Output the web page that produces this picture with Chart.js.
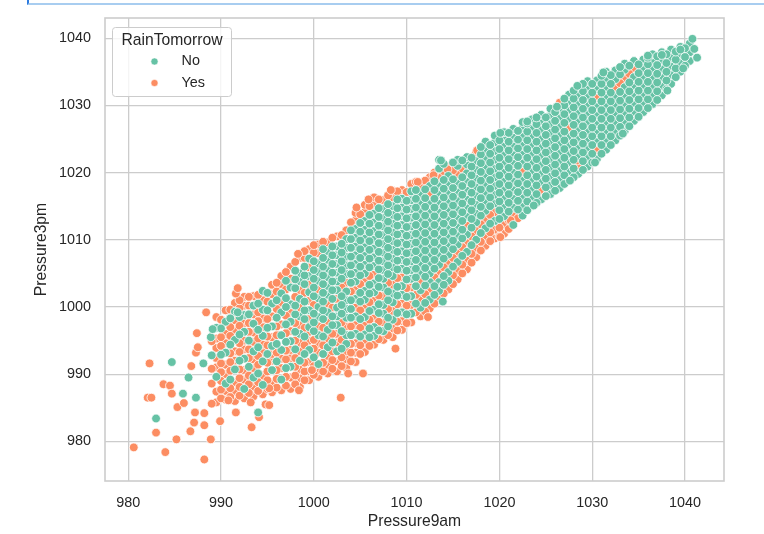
<!DOCTYPE html>
<html>
<head>
<meta charset="utf-8">
<script src="https://cdn.jsdelivr.net/npm/chart.js@4.4.1/dist/chart.umd.min.js"></script>
<style>
  html, body { margin: 0; padding: 0; background: #fff; }
  #wrap { position: relative; width: 764px; height: 534px; overflow: hidden; }
  #cell { position: absolute; left: 27px; top: 0; width: 760px; height: 3px;
          border-left: 2px solid #2d7be0; border-bottom: 2px solid #a8cdf0; }
  canvas { position: absolute; left: 0; top: 0; }
</style>
</head>
<body>
<div id="wrap">
  <canvas id="scatter" width="764" height="534"></canvas>
  <div id="cell"></div>
</div>
<script>
// Pressure9am vs Pressure3pm, coloured by RainTomorrow
const xTicks = [980, 990, 1000, 1010, 1020, 1030, 1040];
const yTicks = [980, 990, 1000, 1010, 1020, 1030, 1040];
const seriesNames = ['No', 'Yes'];

// [Pressure9am, [Pressure3pm, ...]]
const noCols = [
  [989.5, [989.6, 996.9]],
  [990.5, [988.6, 993.2, 997.8]],
  [991.5, [990.7, 995.1, 999.3]],
  [992.5, [987.8, 992.3, 996.3, 998.8]],
  [993.5, [989.5, 993.4, 997.5, 1000.2]],
  [994.5, [988.4, 991.9, 995.7, 999.6, 1002.4]],
  [995.5, [990.6, 994.2, 997.1, 1000.5]],
  [996.5, [989.2, 993.6, 995.8, 999.2, 1002.0]],
  [997.5, [991.1, 994.9, 997.8, 1000.4, 1002.9]],
  [998.5, [992.0, 996.0, 998.6, 1001.2, 1003.8, 1005.0]],
  [999.5, [993.6, 997.0, 999.5, 1002.2, 1004.6, 1007.2]],
  [1000.5, [991.5, 995.8, 998.5, 1000.0, 1001.3, 1003.9, 1005.2, 1006.5]],
  [1001.5, [994.0, 996.6, 999.2, 1001.8, 1003.1, 1004.4, 1005.7, 1007.0, 1008.3]],
  [1002.5, [993.4, 997.3, 998.6, 999.9, 1002.5, 1003.8, 1005.1, 1006.4, 1007.7, 1009.0]],
  [1003.5, [994.5, 995.8, 998.4, 999.7, 1001.0, 1002.3, 1004.9, 1006.2, 1007.5, 1008.8, 1010.1]],
  [1004.5, [996.0, 998.6, 1001.2, 1003.8, 1005.1, 1006.4, 1007.7, 1009.0, 1010.3, 1011.6]],
  [1005.5, [995.9, 998.5, 1001.1, 1002.4, 1005.0, 1006.3, 1007.6, 1008.9, 1010.2, 1011.5, 1012.8]],
  [1006.5, [995.7, 997.0, 999.6, 1002.2, 1003.5, 1006.1, 1007.4, 1008.7, 1010.0, 1011.3, 1012.6, 1013.9]],
  [1007.5, [996.4, 999.0, 1000.3, 1002.9, 1004.2, 1005.5, 1006.8, 1008.1, 1009.4, 1010.7, 1012.0, 1013.3, 1014.6]],
  [1008.5, [998.1, 1000.7, 1002.0, 1004.6, 1005.9, 1007.2, 1008.5, 1009.8, 1011.1, 1012.4, 1013.7, 1015.0]],
  [1009.5, [999.2, 1001.8, 1003.1, 1005.7, 1007.0, 1008.3, 1009.6, 1010.9, 1012.2, 1013.5, 1014.8, 1016.1]],
  [1010.5, [999.0, 1001.6, 1004.2, 1005.5, 1006.8, 1008.1, 1009.4, 1010.7, 1012.0, 1013.3, 1014.6, 1015.9, 1017.2]],
  [1011.5, [999.9, 1002.5, 1005.1, 1006.4, 1007.7, 1009.0, 1010.3, 1011.6, 1012.9, 1014.2, 1015.5, 1016.8]],
  [1012.5, [1001.1, 1003.7, 1005.0, 1006.3, 1007.6, 1008.9, 1010.2, 1011.5, 1012.8, 1014.1, 1015.4, 1018.0]],
  [1013.5, [1002.4, 1003.7, 1006.3, 1007.6, 1008.9, 1010.2, 1011.5, 1012.8, 1014.1, 1015.4, 1016.7, 1018.0, 1020.6, 1021.9]],
  [1014.5, [1003.9, 1005.2, 1007.8, 1009.1, 1010.4, 1011.7, 1013.0, 1014.3, 1015.6, 1016.9, 1018.2, 1019.5]],
  [1015.5, [1006.7, 1009.3, 1010.6, 1011.9, 1013.2, 1014.5, 1015.8, 1017.1, 1018.4, 1021.0, 1021.9]],
  [1016.5, [1008.2, 1010.8, 1013.4, 1014.7, 1016.0, 1017.3, 1018.6, 1019.9, 1021.2, 1022.3]],
  [1017.5, [1010.0, 1012.6, 1013.9, 1015.2, 1016.5, 1017.8, 1019.1, 1020.4, 1021.7]],
  [1018.5, [1011.7, 1014.3, 1015.6, 1016.9, 1018.2, 1019.5, 1020.8, 1022.1, 1023.4, 1024.6]],
  [1019.5, [1012.8, 1015.4, 1016.7, 1018.0, 1019.3, 1020.6, 1021.9, 1023.2, 1024.5, 1025.5]],
  [1020.5, [1013.5, 1014.8, 1016.1, 1017.4, 1018.7, 1020.0, 1021.3, 1022.6, 1023.9, 1025.2, 1026.0]],
  [1021.5, [1012.2, 1014.8, 1016.1, 1017.4, 1018.7, 1020.0, 1021.3, 1022.6, 1023.9, 1025.2, 1026.5]],
  [1022.5, [1013.6, 1014.9, 1016.2, 1017.5, 1018.8, 1021.4, 1022.7, 1024.0, 1025.3, 1026.6, 1027.5]],
  [1023.5, [1015.0, 1016.3, 1017.6, 1018.9, 1020.2, 1021.5, 1022.8, 1024.1, 1025.4, 1026.7, 1027.9]],
  [1024.5, [1016.0, 1018.6, 1019.9, 1021.2, 1022.5, 1023.8, 1025.1, 1026.4, 1027.7, 1028.6]],
  [1025.5, [1016.8, 1018.1, 1019.4, 1020.7, 1022.0, 1023.3, 1024.6, 1025.9, 1027.2, 1028.5, 1029.5]],
  [1026.5, [1017.7, 1019.0, 1020.3, 1021.6, 1022.9, 1024.2, 1025.5, 1026.8, 1028.1, 1029.4]],
  [1027.5, [1018.9, 1020.2, 1021.5, 1022.8, 1024.1, 1025.4, 1028.0, 1029.3, 1030.6, 1031.6]],
  [1028.5, [1019.8, 1022.4, 1023.7, 1025.0, 1026.3, 1027.6, 1028.9, 1030.2, 1031.5, 1032.8]],
  [1029.5, [1020.9, 1022.2, 1023.5, 1024.8, 1026.1, 1027.4, 1028.7, 1030.0, 1031.3, 1032.6, 1033.6]],
  [1030.5, [1022.0, 1024.6, 1025.9, 1027.2, 1028.5, 1029.8, 1032.4, 1033.7]],
  [1031.5, [1023.4, 1024.7, 1026.0, 1027.3, 1028.6, 1029.9, 1031.2, 1032.5, 1033.8, 1035.0]],
  [1032.5, [1024.8, 1026.1, 1027.4, 1028.7, 1030.0, 1031.3, 1033.9, 1035.2]],
  [1033.5, [1026.2, 1027.5, 1028.8, 1030.1, 1031.4, 1032.7, 1035.3, 1036.2]],
  [1034.5, [1027.7, 1029.0, 1030.3, 1031.6, 1032.9, 1034.2, 1036.6]],
  [1035.5, [1029.0, 1030.3, 1031.6, 1032.9, 1034.2, 1035.5, 1036.8]],
  [1036.5, [1030.2, 1031.5, 1032.8, 1034.1, 1035.4, 1036.7, 1037.6]],
  [1037.5, [1031.5, 1032.8, 1034.1, 1035.4, 1036.7, 1037.9]],
  [1038.5, [1033.2, 1034.5, 1035.8, 1037.1, 1038.3]],
  [1039.5, [1035.0, 1036.3, 1037.6, 1038.7]],
  [1040.5, [1036.6, 1037.9, 1039.2]]
];

// the columns in between, where the cloud is packed tight
const noColsMid = [
  [989.0, [992.8]],
  [990.0, [992.9, 996.8]],
  [991.0, [989.2, 994.4, 998.3]],
  [992.0, [992.0, 995.9, 998.5]],
  [993.0, [991.1, 995.0, 998.9]],
  [994.0, [990.1, 994.0, 996.6, 1000.5]],
  [995.0, [993.0, 996.9, 999.5, 1002.1]],
  [996.0, [991.9, 994.5, 998.4, 1001.0]],
  [997.0, [990.9, 994.8, 997.4, 1000.0, 1001.3, 1003.9]],
  [998.0, [993.7, 996.3, 998.9, 1000.2, 1002.8, 1004.1, 1005.4]],
  [999.0, [993.0, 995.6, 998.2, 999.5, 1000.8, 1003.4, 1004.7, 1006.0]],
  [1000.0, [992.5, 996.4, 997.7, 999.0, 1001.6, 1002.9, 1004.2, 1005.5, 1006.8]],
  [1001.0, [993.0, 995.6, 998.2, 999.5, 1000.8, 1002.1, 1003.4, 1004.7, 1006.0, 1007.3, 1008.6]],
  [1002.0, [994.7, 997.3, 998.6, 1001.2, 1002.5, 1003.8, 1005.1, 1006.4, 1007.7, 1009.0]],
  [1003.0, [993.8, 996.4, 999.0, 1000.3, 1001.6, 1004.2, 1005.5, 1006.8, 1008.1, 1009.4]],
  [1004.0, [995.8, 998.4, 999.7, 1001.0, 1003.6, 1004.9, 1006.2, 1007.5, 1008.8, 1010.1, 1011.4]],
  [1005.0, [995.6, 998.2, 1000.8, 1002.1, 1004.7, 1006.0, 1007.3, 1008.6, 1009.9, 1011.2, 1012.5]],
  [1006.0, [995.5, 996.8, 999.4, 1002.0, 1003.3, 1005.9, 1007.2, 1008.5, 1009.8, 1011.1, 1012.4, 1013.7]],
  [1007.0, [996.5, 999.1, 1000.4, 1003.0, 1004.3, 1005.6, 1006.9, 1008.2, 1009.5, 1010.8, 1012.1, 1013.4, 1014.7]],
  [1008.0, [997.1, 998.4, 1001.0, 1002.3, 1004.9, 1006.2, 1007.5, 1008.8, 1010.1, 1011.4, 1012.7, 1014.0, 1015.3]],
  [1009.0, [999.1, 1001.7, 1003.0, 1005.6, 1006.9, 1008.2, 1009.5, 1010.8, 1012.1, 1013.4, 1014.7, 1016.0]],
  [1010.0, [998.9, 1001.5, 1004.1, 1005.4, 1006.7, 1008.0, 1009.3, 1010.6, 1011.9, 1013.2, 1014.5, 1015.8]],
  [1011.0, [1000.5, 1003.1, 1004.4, 1005.7, 1007.0, 1008.3, 1009.6, 1010.9, 1012.2, 1013.5, 1014.8, 1016.1, 1017.4]],
  [1012.0, [1000.6, 1003.2, 1004.5, 1005.8, 1007.1, 1008.4, 1009.7, 1011.0, 1012.3, 1013.6, 1014.9, 1016.2, 1017.5]],
  [1013.0, [1001.8, 1003.1, 1005.7, 1007.0, 1008.3, 1009.6, 1010.9, 1012.2, 1013.5, 1014.8, 1016.1, 1017.4, 1018.7]],
  [1014.0, [1003.3, 1004.6, 1007.2, 1008.5, 1009.8, 1011.1, 1012.4, 1013.7, 1015.0, 1016.3, 1017.6, 1018.9, 1021.3]],
  [1015.0, [1006.0, 1008.6, 1009.9, 1011.2, 1012.5, 1013.8, 1015.1, 1016.4, 1017.7, 1019.0, 1021.5]],
  [1016.0, [1007.6, 1010.2, 1011.5, 1012.8, 1014.1, 1015.4, 1016.7, 1018.0, 1019.3, 1021.8]],
  [1017.0, [1009.2, 1011.8, 1013.1, 1014.4, 1015.7, 1017.0, 1018.3, 1019.6, 1020.9, 1022.2]],
  [1018.0, [1011.0, 1013.6, 1014.9, 1016.2, 1017.5, 1018.8, 1020.1, 1021.4, 1022.7, 1023.8]],
  [1019.0, [1012.4, 1015.0, 1016.3, 1017.6, 1018.9, 1020.2, 1021.5, 1022.8, 1024.1]],
  [1020.0, [1013.1, 1014.4, 1015.7, 1017.0, 1018.3, 1019.6, 1020.9, 1022.2, 1023.5, 1024.8]],
  [1021.0, [1014.2, 1015.5, 1016.8, 1018.1, 1019.4, 1020.7, 1022.0, 1023.3, 1024.6, 1025.9]],
  [1022.0, [1014.5, 1015.8, 1017.1, 1018.4, 1019.7, 1021.0, 1022.3, 1023.6, 1024.9, 1026.2]],
  [1023.0, [1014.4, 1015.7, 1017.0, 1018.3, 1019.6, 1020.9, 1022.2, 1023.5, 1024.8, 1026.1, 1027.3]],
  [1024.0, [1015.5, 1016.8, 1018.1, 1019.4, 1020.7, 1022.0, 1023.3, 1024.6, 1025.9, 1027.2, 1028.2]],
  [1025.0, [1016.5, 1017.8, 1019.1, 1020.4, 1021.7, 1023.0, 1024.3, 1025.6, 1026.9, 1028.2]],
  [1026.0, [1017.3, 1018.6, 1019.9, 1021.2, 1022.5, 1023.8, 1025.1, 1026.4, 1027.7, 1029.0]],
  [1027.0, [1018.3, 1019.6, 1020.9, 1022.2, 1023.5, 1024.8, 1026.1, 1027.4, 1028.7, 1030.0, 1031.0]],
  [1028.0, [1019.3, 1020.6, 1021.9, 1023.2, 1024.5, 1025.8, 1027.1, 1028.4, 1029.7, 1031.0, 1032.2]],
  [1029.0, [1020.4, 1021.7, 1023.0, 1024.3, 1025.6, 1026.9, 1028.2, 1029.5, 1030.8, 1032.1, 1033.2]],
  [1030.0, [1021.5, 1022.8, 1024.1, 1025.4, 1026.7, 1028.0, 1029.3, 1030.6, 1031.9, 1033.2]],
  [1031.0, [1022.8, 1024.1, 1025.4, 1026.7, 1028.0, 1029.3, 1030.6, 1031.9, 1033.2, 1034.4]],
  [1032.0, [1024.1, 1025.4, 1026.7, 1028.0, 1029.3, 1030.6, 1031.9, 1033.2, 1034.5]],
  [1033.0, [1025.5, 1026.8, 1028.1, 1029.4, 1030.7, 1032.0, 1034.6, 1035.7]],
  [1034.0, [1026.9, 1028.2, 1029.5, 1030.8, 1032.1, 1033.4, 1035.9]],
  [1035.0, [1028.3, 1029.6, 1030.9, 1032.2, 1033.5, 1034.8, 1036.1]],
  [1036.0, [1029.6, 1030.9, 1032.2, 1033.5, 1034.8, 1036.1, 1037.1]],
  [1037.0, [1030.8, 1032.1, 1033.4, 1034.7, 1036.0, 1037.3]],
  [1038.0, [1032.4, 1033.7, 1035.0, 1036.3, 1037.6]],
  [1039.0, [1034.2, 1035.5, 1036.8, 1038.0]],
  [1040.0, [1035.9, 1037.2, 1038.5]]
];

const yesCols = [
  [989.5, [985.8, 987.4, 991.0, 992.4, 993.9, 995.3, 998.5]],
  [990.5, [986.2, 987.5, 990.0, 991.4, 994.6, 996.0, 999.5]],
  [991.5, [986.0, 987.4, 988.8, 992.0, 993.4, 996.6, 998.0, 1000.6]],
  [992.5, [986.4, 989.2, 990.6, 993.7, 995.0, 997.6, 1000.2, 1001.5]],
  [993.5, [986.7, 988.1, 990.9, 992.2, 994.8, 996.2, 998.9, 1001.6]],
  [994.5, [987.0, 989.8, 993.2, 994.4, 997.0, 998.3, 1001.0]],
  [995.5, [987.3, 988.7, 992.0, 993.0, 995.5, 998.6, 1001.9, 1003.3]],
  [996.5, [987.6, 990.9, 992.3, 997.4, 1000.6, 1003.4, 1004.6]],
  [997.5, [987.8, 989.5, 992.4, 993.6, 996.4, 999.1, 1004.2, 1006.0]],
  [998.5, [988.1, 989.4, 990.7, 993.4, 994.7, 997.3, 999.9, 1002.5, 1007.3]],
  [999.5, [989.1, 990.4, 991.8, 995.0, 996.3, 998.2, 1000.9, 1003.4, 1005.9, 1008.6]],
  [1000.5, [989.6, 990.6, 993.2, 994.5, 997.1, 1002.6, 1008.0, 1009.3]],
  [1001.5, [990.1, 991.4, 992.7, 995.3, 997.9, 1000.5, 1009.6]],
  [1002.5, [990.4, 991.9, 994.7, 996.0, 1001.2, 1010.5]],
  [1003.5, [990.9, 992.2, 993.4, 997.1, 1003.6, 1011.4]],
  [1004.5, [991.8, 993.2, 994.6, 997.3, 999.9, 1002.5, 1012.9, 1014.0]],
  [1005.5, [993.3, 994.6, 997.2, 999.8, 1003.7, 1014.1, 1015.2]],
  [1006.5, [994.4, 998.3, 1000.9, 1004.8, 1015.2, 1016.3]],
  [1007.5, [995.1, 997.7, 1001.6, 1015.9]],
  [1008.5, [995.5, 996.8, 999.4, 1003.3, 1016.3, 1017.3]],
  [1009.5, [996.6, 997.9, 1000.5, 1004.4, 1017.4]],
  [1010.5, [997.7, 1000.3, 1002.9, 1018.3]],
  [1011.5, [998.6, 1001.2, 1003.8, 1018.1]],
  [1012.5, [999.8, 1002.4, 1016.7, 1019.3]],
  [1013.5, [1001.1, 1005.0, 1019.3]],
  [1014.5, [1002.6, 1006.5, 1020.8]],
  [1015.5, [1004.1, 1005.4, 1008.0, 1019.7]],
  [1016.5, [1005.6, 1006.9, 1009.5, 1012.1]],
  [1017.5, [1007.4, 1008.7, 1011.3, 1023.0]],
  [1018.5, [1009.1, 1010.4, 1013.0]],
  [1019.5, [1010.2, 1011.5, 1014.1]],
  [1020.5, [1010.9, 1012.2]],
  [1021.5, [1013.5]],
  [1022.5, [1020.1]],
  [1024.5, [1017.3]],
  [1026.5, [1030.4]],
  [1027.5, [1026.7]],
  [1028.5, [1021.1]],
  [1030.5, [1023.3, 1031.1]],
  [1032.5, [1032.6]],
  [1033.5, [1034.0]],
  [1034.5, [1035.5]]
];

const yesColsMid = [
  [989.0, [985.6, 988.6, 990.8, 994.9]],
  [990.0, [986.4, 987.7, 989.0, 990.3, 991.6, 994.2, 995.5, 998.1]],
  [991.0, [986.6, 987.9, 990.5, 991.8, 993.1, 995.7, 997.0, 999.6]],
  [992.0, [986.8, 988.1, 989.4, 990.7, 993.3, 994.6, 997.2, 999.8, 1001.0]],
  [993.0, [987.2, 988.5, 989.8, 992.4, 993.7, 996.3, 997.6, 1000.2, 1001.5]],
  [994.0, [987.5, 988.8, 991.4, 992.7, 995.3, 997.9, 999.2, 1001.8]],
  [995.0, [987.8, 989.1, 990.4, 991.7, 994.3, 995.6, 998.2, 1000.8]],
  [996.0, [988.0, 989.3, 990.6, 993.2, 995.8, 997.1, 999.7, 1002.3, 1003.6]],
  [997.0, [988.3, 989.6, 992.2, 993.5, 996.1, 998.7, 1002.6, 1005.2]],
  [998.0, [988.5, 989.8, 991.1, 992.4, 995.0, 997.6, 1001.5, 1006.7]],
  [999.0, [989.1, 990.4, 991.7, 994.3, 996.9, 1002.1, 1007.3, 1008.3]],
  [1000.0, [989.9, 991.2, 993.8, 995.1, 1000.3, 1008.1, 1009.2]],
  [1001.0, [990.4, 991.7, 994.3, 996.9, 1009.7]],
  [1002.0, [990.8, 992.1, 993.4, 996.0, 999.9, 1010.3]],
  [1003.0, [991.2, 992.5, 995.1, 997.7, 1002.9, 1010.7]],
  [1004.0, [991.9, 993.2, 994.5, 997.1, 1002.3, 1012.6]],
  [1005.0, [993.0, 994.3, 996.9, 999.5, 1003.4, 1013.8]],
  [1006.0, [994.2, 998.1, 1000.7, 1004.6, 1015.0]],
  [1007.0, [995.2, 997.8, 1001.7, 1016.0]],
  [1008.0, [995.8, 999.7, 1003.6, 1016.6]],
  [1009.0, [996.5, 997.8, 1000.4, 1004.3, 1017.2]],
  [1010.0, [997.6, 1000.2, 1002.8, 1017.1]],
  [1011.0, [999.2, 1001.8, 1018.6]],
  [1012.0, [999.3, 1001.9, 1018.8]],
  [1013.0, [1000.5, 1004.4, 1020.0]],
  [1014.0, [1002.0, 1005.9, 1020.2]],
  [1015.0, [1003.4, 1004.7, 1007.3, 1020.3]],
  [1016.0, [1005.0, 1006.3, 1008.9, 1020.6]],
  [1017.0, [1006.6, 1007.9, 1010.5]],
  [1018.0, [1008.4, 1009.7, 1012.3]],
  [1019.0, [1009.8, 1011.1, 1013.7]],
  [1020.0, [1010.5, 1011.8]],
  [1021.0, [1011.6, 1012.9]],
  [1022.0, [1013.2]],
  [1033.0, [1033.3]],
  [1034.0, [1034.7]]
];

// single stragglers on the edges of the cloud, [Pressure9am, Pressure3pm]
const noEdge = [
  [1040.8, 1039.9], [1041.3, 1037.1], [1041.0, 1038.4], [1039.8, 1035.5], [1038.1, 1032.2],
  [1039.5, 1038.3], [1037.5, 1037.5], [1036.0, 1037.4], [1031.2, 1034.9], [1028.4, 1032.9],
  [1026.2, 1029.8], [1023.0, 1027.6], [1020.1, 1025.9], [1013.7, 1021.8], [1033.3, 1025.8],
  [1030.3, 1021.5], [1027.6, 1018.8], [1023.7, 1015.1], [1013.9, 1000.8],
  [984.7, 991.8], [983.0, 983.4], [986.5, 989.5], [985.9, 987.1], [987.3, 986.5],
  [988.1, 991.6], [988.9, 995.5], [989.1, 996.7], [994.0, 984.3], [991.8, 999.2]
];

const yesEdge = [
  [980.6, 979.1], [984.0, 978.4], [988.2, 977.3], [985.2, 980.3], [988.9, 980.3],
  [983.0, 981.3], [986.7, 981.5], [988.2, 982.4], [987.1, 982.8], [989.9, 983.0],
  [993.3, 982.1], [994.1, 983.6], [991.6, 984.3], [987.2, 984.3], [988.2, 984.2],
  [985.3, 985.1], [986.0, 985.7], [982.1, 986.5], [982.5, 986.5], [983.8, 988.5],
  [984.5, 988.3], [984.7, 987.1], [982.3, 991.6], [986.8, 991.2], [987.3, 993.2],
  [987.5, 994.0], [988.4, 999.2], [987.4, 996.1], [991.6, 1002.0], [991.8, 1002.8],
  [1002.9, 986.5], [1003.7, 990.1], [1005.3, 990.1], [1008.8, 993.8], [1012.3, 998.5],
  [998.4, 987.6], [995.2, 987.9], [999.8, 990.6], [994.8, 985.5], [995.2, 985.4],
  [990.8, 986.1], [993.2, 985.8],
  [1008.3, 1017.4], [1011.2, 1018.6], [1012.9, 1019.6], [1014.4, 1020.5], [1017.6, 1023.3],
  [998.3, 1007.9], [1004.6, 1014.8], [1005.9, 1016.0], [1020.1, 1025.6],
  [1020.1, 1010.4], [1021.2, 1012.9], [1024.9, 1018.1], [1024.4, 1017.4], [1028.4, 1021.8]
];

const colors = { No: '#66c2a5', Yes: '#fc8d62' };

function toPoints(colSets, edge) {
  const pts = [];
  colSets.forEach(function (cols) {
    cols.forEach(function (c) {
      c[1].forEach(function (y) { pts.push({ x: c[0], y: y }); });
    });
  });
  edge.forEach(function (p) { pts.push({ x: p[0], y: p[1] }); });
  return pts;
}

const font = 'Liberation Sans, Arial, sans-serif';
const ink = '#262626';
const gridColor = '#cccccc';

// frame round the plot (seaborn whitegrid spines)
const framePlugin = {
  id: 'frame',
  afterDatasetsDraw(chart) {
    const a = chart.chartArea, ctx = chart.ctx;
    ctx.save();
    ctx.strokeStyle = gridColor;
    ctx.lineWidth = 1.6;
    ctx.strokeRect(a.left, a.top, a.right - a.left, a.bottom - a.top);
    ctx.restore();
  }
};

// legend box in the upper left corner of the axes
const legendPlugin = {
  id: 'boxLegend',
  afterDraw(chart) {
    const ctx = chart.ctx;
    ctx.save();
    ctx.beginPath();
    ctx.roundRect(112.5, 27.5, 119, 69, 3);
    ctx.fillStyle = 'rgba(255,255,255,0.8)';
    ctx.fill();
    ctx.strokeStyle = gridColor;
    ctx.lineWidth = 1;
    ctx.stroke();
    ctx.fillStyle = ink;
    ctx.textBaseline = 'middle';
    ctx.textAlign = 'center';
    ctx.font = '15.7px ' + font;
    ctx.fillText('RainTomorrow', 172, 40.5);
    ctx.textAlign = 'left';
    ctx.font = '14.4px ' + font;
    seriesNames.forEach(function (name, i) {
      const y = 61.5 + i * 21.5;
      ctx.beginPath();
      ctx.arc(154.5, y, 3.6, 0, Math.PI * 2);
      ctx.fillStyle = colors[name];
      ctx.fill();
      ctx.strokeStyle = '#fff';
      ctx.lineWidth = 0.6;
      ctx.stroke();
      ctx.fillStyle = ink;
      ctx.fillText(name, 181.5, y);
    });
    ctx.restore();
  }
};

window.addEventListener('DOMContentLoaded', function () {
  const ctx = document.getElementById('scatter').getContext('2d');
  new Chart(ctx, {
    type: 'scatter',
    data: {
      datasets: [
        {
          label: 'No',
          data: toPoints([noCols, noColsMid], noEdge),
          backgroundColor: colors.No,
          borderColor: '#ffffff',
          borderWidth: 0.8,
          pointRadius: 4.4,
          order: 1
        },
        {
          label: 'Yes',
          data: toPoints([yesCols, yesColsMid], yesEdge),
          backgroundColor: colors.Yes,
          borderColor: '#ffffff',
          borderWidth: 0.8,
          pointRadius: 4.4,
          order: 2
        }
      ]
    },
    options: {
      responsive: false,
      animation: false,
      events: [],
      layout: { padding: { left: 32.3, top: 18, right: 40, bottom: 2.6 } },
      plugins: {
        legend: { display: false },
        tooltip: { enabled: false }
      },
      scales: {
        x: {
          type: 'linear',
          min: 977.5,
          max: 1044.2,
          afterBuildTicks: function (s) { s.ticks = xTicks.map(function (v) { return { value: v }; }); },
          afterFit: function (s) { s.height = 50.4; s.paddingLeft = 0; s.paddingRight = 0; },
          grid: { color: gridColor, lineWidth: 1.3, drawTicks: false },
          border: { display: false },
          ticks: { color: ink, font: { family: font, size: 14.4 }, padding: 13, maxRotation: 0,
                   callback: function (v) { return String(v); } },
          title: { display: true, text: 'Pressure9am', color: ink, font: { family: font, size: 15.7 }, padding: 0 }
        },
        y: {
          type: 'linear',
          min: 974.1,
          max: 1043.0,
          afterBuildTicks: function (s) { s.ticks = yTicks.map(function (v) { return { value: v }; }); },
          afterFit: function (s) { s.width = 72.7; s.paddingTop = 0; s.paddingBottom = 0; },
          grid: { color: gridColor, lineWidth: 1.3, drawTicks: false },
          border: { display: false },
          ticks: { color: ink, font: { family: font, size: 14.4 }, padding: 14,
                   callback: function (v) { return String(v); } },
          title: { display: true, text: 'Pressure3pm', color: ink, font: { family: font, size: 15.7 }, padding: 0 }
        }
      }
    },
    plugins: [framePlugin, legendPlugin]
  });
});
</script>
</body>
</html>
